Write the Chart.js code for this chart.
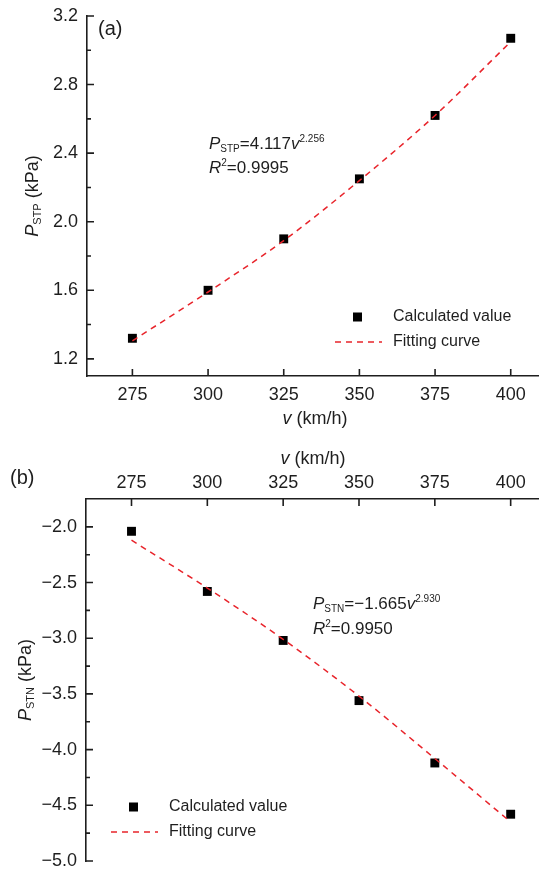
<!DOCTYPE html>
<html>
<head>
<meta charset="utf-8">
<script src="https://cdn.jsdelivr.net/npm/chart.js@4.4.1/dist/chart.umd.min.js"></script>
<style>
    body { margin: 0; background: #fff; overflow: hidden; width: 539px; height: 874px; position: relative; }
    .panel { position: absolute; left: 0; width: 541px; height: 437px; }
</style>
</head>
<body>
<div class="panel" style="top:0"><canvas id="chartA" width="541" height="437"></canvas></div>
<div class="panel" style="top:437px"><canvas id="chartB" width="541" height="437"></canvas></div>
<script>
// 속도별 압력 데이터
var speedKmh = [275, 300, 325, 350, 375, 400];
var stpCalc = [1.32, 1.60, 1.90, 2.25, 2.62, 3.07];
var stpFit = [1.305, 1.59, 1.89, 2.24, 2.62, 3.05];
var stnCalc = [-2.04, -2.58, -3.02, -3.56, -4.12, -4.58];
var stnFit = [-2.12, -2.55, -3.01, -3.52, -4.08, -4.65];

var speedTicks = [275, 300, 325, 350, 375, 400];
var stpTicks = [1.2, 1.6, 2.0, 2.4, 2.8, 3.2];
var stpMinor = [1.4, 1.8, 2.2, 2.6, 3.0];
var stnTicks = [-2.0, -2.5, -3.0, -3.5, -4.0, -4.5, -5.0];
var stnMinor = [-2.25, -2.75, -3.25, -3.75, -4.25, -4.75];

var FONT = "'Liberation Sans', Arial, sans-serif";
var INK = '#1e1e1e';
var RED = '#e8242b';

function toPoints(xs, ys) {
    return xs.map(function(x, i) { return { x: x, y: ys[i] }; });
}

function setTicks(list) {
    return function(scale) {
        scale.ticks = list.map(function(v) { return { value: v }; });
    };
}

// 글자 조각 그리기: [text, size, italic, dy]
function drawRuns(ctx, runs, x, y, align) {
    var total = 0;
    runs.forEach(function(r) {
        ctx.font = (r[2] ? 'italic ' : '') + r[1] + 'px ' + FONT;
        r.w = ctx.measureText(r[0]).width;
        total += r.w;
    });
    var cx = align == 'center' ? x - total / 2 : x;
    ctx.textAlign = 'left';
    ctx.textBaseline = 'alphabetic';
    runs.forEach(function(r) {
        ctx.font = (r[2] ? 'italic ' : '') + r[1] + 'px ' + FONT;
        ctx.fillText(r[0], cx, y + (r[3] || 0));
        cx += r.w;
    });
}

function drawInwardTicks(chart, minor) {
    var ctx = chart.ctx, xs = chart.scales.x, ys = chart.scales.y, area = chart.chartArea;
    var edge = xs.options.position == 'top' ? area.top : area.bottom;
    var dir = xs.options.position == 'top' ? 1 : -1;
    ctx.save();
    ctx.strokeStyle = INK;
    ctx.lineWidth = 1.6;
    ctx.beginPath();
    xs.ticks.forEach(function(t) {
        var px = xs.getPixelForValue(t.value);
        ctx.moveTo(px, edge);
        ctx.lineTo(px, edge + dir * 7);
    });
    ys.ticks.forEach(function(t) {
        var py = ys.getPixelForValue(t.value);
        ctx.moveTo(area.left, py);
        ctx.lineTo(area.left + 7, py);
    });
    minor.forEach(function(v) {
        var py = ys.getPixelForValue(v);
        ctx.moveTo(area.left, py);
        ctx.lineTo(area.left + 4, py);
    });
    ctx.stroke();
    ctx.restore();
}

function drawLegend(chart, x, y) {
    var ctx = chart.ctx;
    ctx.save();
    ctx.fillStyle = '#000';
    ctx.fillRect(x + 18, y - 4.5, 9, 9);
    ctx.strokeStyle = RED;
    ctx.lineWidth = 1.5;
    ctx.setLineDash([6, 5]);
    ctx.beginPath();
    ctx.moveTo(x, y + 25);
    ctx.lineTo(x + 47, y + 25);
    ctx.stroke();
    ctx.setLineDash([]);
    ctx.fillStyle = INK;
    ctx.font = '16px ' + FONT;
    ctx.textBaseline = 'middle';
    ctx.textAlign = 'left';
    ctx.fillText('Calculated value', x + 58, y);
    ctx.fillText('Fitting curve', x + 58, y + 25);
    ctx.restore();
}

function baseOptions(xPos, xPad, yMin, yMax, yTicks, yFmt, xHeight, yWidth, pad) {
    return {
        responsive: false,
        animation: false,
        layout: { padding: pad, autoPadding: false },
        plugins: { legend: { display: false }, tooltip: { enabled: false } },
        scales: {
            x: {
                type: 'linear',
                position: xPos,
                min: 260,
                max: 410,
                afterBuildTicks: setTicks(speedTicks),
                afterFit: function(s) { s.height = xHeight; s.paddingLeft = 0; s.paddingRight = 0; },
                grid: { display: false, drawTicks: false },
                border: { display: true, color: INK, width: 1.6 },
                ticks: { color: INK, padding: xPad, font: { family: FONT, size: 18 } }
            },
            y: {
                min: yMin,
                max: yMax,
                afterBuildTicks: setTicks(yTicks),
                afterFit: function(s) { s.width = yWidth; s.paddingTop = 0; s.paddingBottom = 0; },
                grid: { display: false, drawTicks: false },
                border: { display: true, color: INK, width: 1.6 },
                ticks: { color: INK, padding: 9, font: { family: FONT, size: 18 }, callback: yFmt }
            }
        }
    };
}

function makeDatasets(calc, fit) {
    return [
        {
            label: 'Fitting curve',
            data: toPoints(speedKmh, fit),
            showLine: true,
            borderColor: RED,
            borderWidth: 1.5,
            borderDash: [6, 5],
            pointRadius: 0,
            cubicInterpolationMode: 'monotone',
            fill: false,
            clip: false
        },
        {
            label: 'Calculated value',
            data: toPoints(speedKmh, calc),
            showLine: false,
            pointStyle: 'rect',
            pointRadius: 6.3,
            backgroundColor: '#000',
            borderColor: '#000',
            borderWidth: 0,
            clip: false
        }
    ];
}

// (a) 정압
var decorA = {
    id: 'decorA',
    afterDraw: function(chart) {
        var ctx = chart.ctx;
        drawInwardTicks(chart, stpMinor);
        ctx.save();
        ctx.fillStyle = INK;
        drawRuns(ctx, [['(a)', 20, false]], 98, 35, 'left');
        drawRuns(ctx, [['v', 18, true], [' (km/h)', 18, false]], 315, 424, 'center');
        drawRuns(ctx, [['P', 17, true], ['STP', 10, false, 3], ['=4.117', 17, false], ['v', 17, true], ['2.256', 10, false, -7]], 209, 149, 'left');
        drawRuns(ctx, [['R', 17, true], ['2', 10, false, -7], ['=0.9995', 17, false]], 209, 173, 'left');
        ctx.translate(38, 196);
        ctx.rotate(-Math.PI / 2);
        drawRuns(ctx, [['P', 18, true], ['STP', 11, false, 3], [' (kPa)', 18, false]], 0, 0, 'center');
        ctx.restore();
        drawLegend(chart, 335, 317);
    }
};

// (b) 부압
var decorB = {
    id: 'decorB',
    afterDraw: function(chart) {
        var ctx = chart.ctx;
        drawInwardTicks(chart, stnMinor);
        ctx.save();
        ctx.fillStyle = INK;
        drawRuns(ctx, [['(b)', 20, false]], 10, 47, 'left');
        drawRuns(ctx, [['v', 18, true], [' (km/h)', 18, false]], 313, 27, 'center');
        drawRuns(ctx, [['P', 17, true], ['STN', 10, false, 3], ['=\u22121.665', 17, false], ['v', 17, true], ['2.930', 10, false, -7]], 313, 172, 'left');
        drawRuns(ctx, [['R', 17, true], ['2', 10, false, -7], ['=0.9950', 17, false]], 313, 197, 'left');
        ctx.translate(31, 243);
        ctx.rotate(-Math.PI / 2);
        drawRuns(ctx, [['P', 18, true], ['STN', 11, false, 3], [' (kPa)', 18, false]], 0, 0, 'center');
        ctx.restore();
        drawLegend(chart, 111, 370);
    }
};

new Chart(document.getElementById('chartA'), {
    type: 'scatter',
    data: { datasets: makeDatasets(stpCalc, stpFit) },
    options: baseOptions('bottom', 8, 1.1, 3.2, stpTicks, function(v) { return v.toFixed(1); }, 61, 87,
        { top: 16, left: 0, right: 0, bottom: 0 }),
    plugins: [decorA]
});

new Chart(document.getElementById('chartB'), {
    type: 'scatter',
    data: { datasets: makeDatasets(stnCalc, stnFit) },
    options: baseOptions('top', 5, -5.0, -1.75, stnTicks, function(v) { return v.toFixed(1).replace('-', '\u2212'); }, 62, 86,
        { top: 0, left: 0, right: 0, bottom: 13 }),
    plugins: [decorB]
});
</script>
</body>
</html>
